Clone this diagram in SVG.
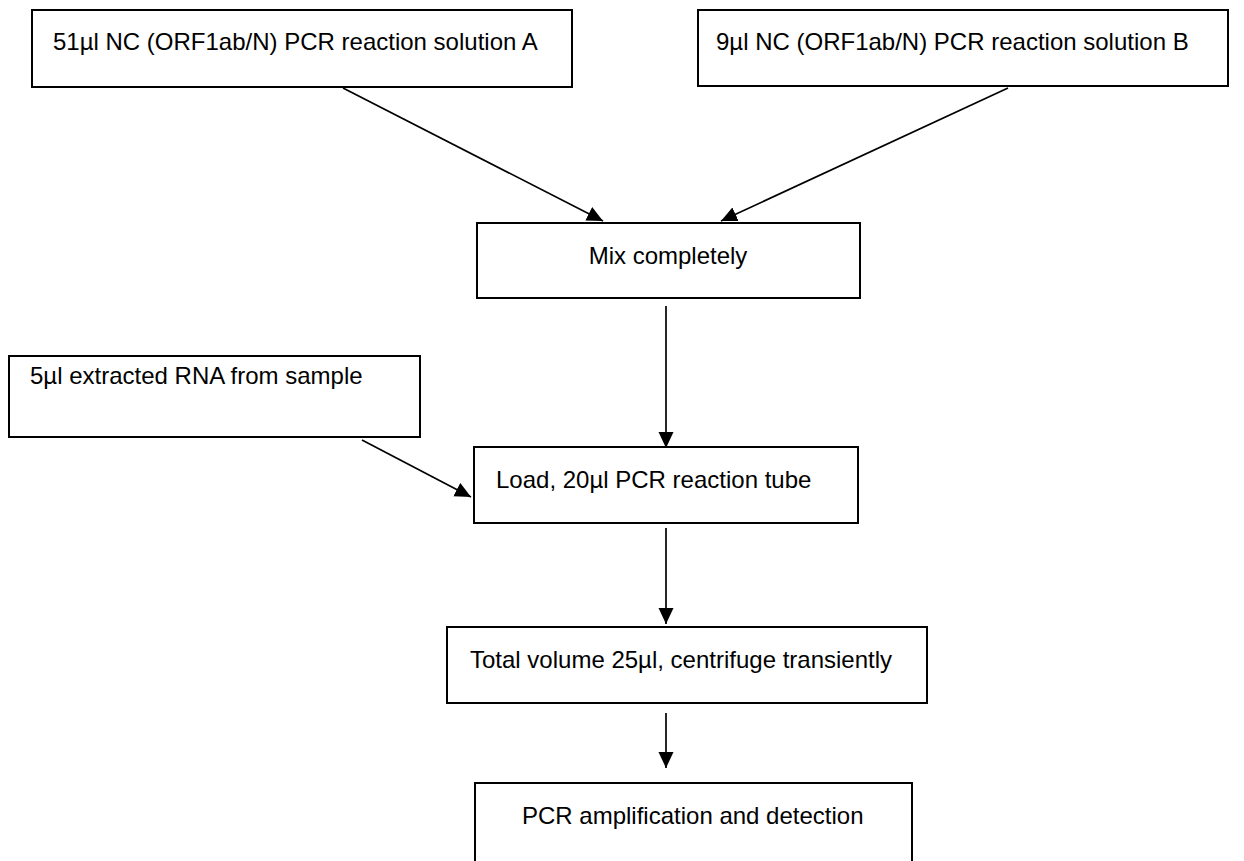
<svg xmlns="http://www.w3.org/2000/svg" width="1244" height="861" viewBox="0 0 1244 861">
<defs>
<style>
.box{fill:#fff;stroke:#000;stroke-width:2}
.t{font-family:"Liberation Sans",Arial,sans-serif;font-size:24px;fill:#000}
.c{stroke:#000;stroke-width:1.7;fill:none;marker-end:url(#ah)}
</style>
<marker id="ah" markerUnits="userSpaceOnUse" markerWidth="17" markerHeight="16" refX="16" refY="7.5" orient="auto" viewBox="0 0 17 15">
<path d="M0,0 L16,7.5 L0,15 Z" fill="#000"/>
</marker>
</defs>
<rect width="1244" height="861" fill="#fff"/>
<g id="nodeA"><rect class="box" x="32" y="10" width="540" height="77"/><text class="t" x="53" y="50">51µl NC (ORF1ab/N) PCR reaction solution A</text></g>
<g id="nodeB"><rect class="box" x="698" y="10" width="530" height="76"/><text class="t" x="716" y="50">9µl NC (ORF1ab/N) PCR reaction solution B</text></g>
<g id="nodeMix"><rect class="box" x="477" y="223" width="383" height="75"/><text class="t" x="668" y="264" text-anchor="middle">Mix completely</text></g>
<g id="nodeRNA"><rect class="box" x="9" y="356" width="411" height="81"/><text class="t" x="30" y="384">5µl extracted RNA from sample</text></g>
<g id="nodeLoad"><rect class="box" x="474" y="447" width="384" height="76"/><text class="t" x="496" y="488">Load, 20µl PCR reaction tube</text></g>
<g id="nodeTotal"><rect class="box" x="447" y="627" width="480" height="76"/><text class="t" x="470" y="668">Total volume 25µl, centrifuge transiently</text></g>
<g id="nodePCR"><rect class="box" x="475" y="783" width="437" height="90"/><text class="t" x="522" y="824">PCR amplification and detection</text></g>
<g id="connectors">
<line class="c" x1="343" y1="88" x2="603" y2="221"/>
<line class="c" x1="1008" y1="88" x2="721" y2="221"/>
<line class="c" x1="666" y1="306" x2="666" y2="448"/>
<line class="c" x1="362" y1="440" x2="471" y2="497"/>
<line class="c" x1="666" y1="528" x2="666" y2="624"/>
<line class="c" x1="666" y1="713" x2="666" y2="768"/>
</g>
</svg>
